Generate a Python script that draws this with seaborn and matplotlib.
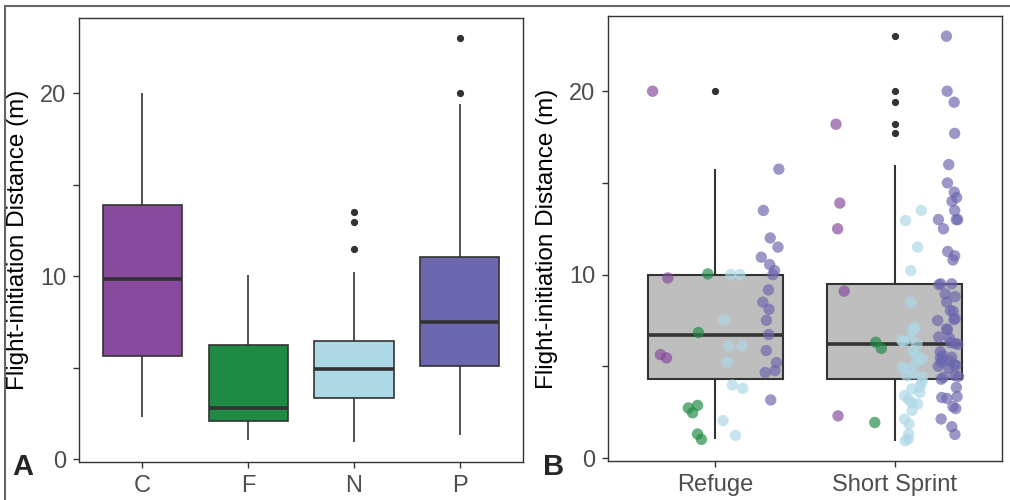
import numpy as np
import pandas as pd
import matplotlib.pyplot as plt
import seaborn as sns
from matplotlib.lines import Line2D

# =============================================================================
# DATA  (flight-initiation distance in m)
# =============================================================================

categories = ["C", "F", "N", "P"]
groups = ["Refuge", "Short Sprint"]

refuge_C = [20.0, 9.82, 5.64, 5.46]
refuge_F = [10.04, 6.84, 2.87, 2.73, 2.47, 1.31, 1.02]
refuge_N = [10.0, 10.0, 7.53, 6.11, 6.11, 5.22, 3.98, 3.8, 2.04, 1.24]
refuge_P = [15.75, 13.5, 12.0, 11.5, 10.95, 10.55, 10.22, 10.0, 9.17,
            8.5, 8.11, 7.51, 6.73, 5.86, 5.2, 4.77, 4.66, 3.17]

sprint_C = [18.2, 13.9, 12.5, 9.1, 2.3]
sprint_F = [6.31, 5.98, 1.94]
sprint_N = [13.5, 12.95, 11.5, 10.22, 8.5, 7.13, 7.0, 6.5, 6.4, 6.35,
            6.22, 5.86, 5.58, 5.4, 5.22, 4.95, 4.86, 4.6, 4.49, 4.4,
            4.13, 3.9, 3.77, 3.58, 3.4, 3.2, 3.03, 2.95, 2.6, 2.13,
            1.86, 1.31, 1.04, 0.94]
sprint_P = [23.0, 20.0, 19.4, 17.7, 16.0, 15.0, 14.5, 14.2, 14.0, 13.5,
            13.0, 13.0, 13.0, 12.5, 11.26, 11.03, 10.8,
            9.5, 9.5, 9.45, 8.95, 8.8, 8.5, 8.04, 8.0, 7.6, 7.55, 7.5,
            7.04, 7.0, 6.6, 6.55, 6.3, 6.25, 6.2,
            5.8, 5.6, 5.5, 5.45, 5.35, 5.3, 5.2, 5.1, 5.05, 5.0, 4.9,
            4.5, 4.45, 4.4, 4.3, 3.85, 3.35, 3.3, 3.25, 2.8, 2.7,
            2.13, 1.71, 1.29]

cat_colors = ["#874A9C", "#1F8A44", "#ADD8E6", "#6C67AE"]

# =============================================================================
# TABLE
# =============================================================================

rows = []
for grp, lists in [("Refuge", [refuge_C, refuge_F, refuge_N, refuge_P]),
                   ("Short Sprint", [sprint_C, sprint_F, sprint_N, sprint_P])]:
    for cat, vals in zip(categories, lists):
        for v in vals:
            rows.append({"group": grp, "cat": cat, "fid": v})
df = pd.DataFrame(rows)

# =============================================================================
# FIGURE
# =============================================================================

sns.set_style("white")
plt.rcParams["font.family"] = ["Liberation Sans", "DejaVu Sans"]

fig = plt.figure(figsize=(10.1, 5.0), dpi=100)
ax_a = fig.add_axes([79 / 1010, 38 / 500, 444 / 1010, 444 / 500])
ax_b = fig.add_axes([608 / 1010, 39 / 500, 394 / 1010, 445 / 500])

edge = "#333333"
flier = {"marker": "o", "markerfacecolor": edge, "markeredgecolor": edge,
         "markersize": 4.2}

# panel A: boxes by category
sns.boxplot(data=df, x="cat", y="fid", hue="cat", order=categories,
            hue_order=categories, palette=cat_colors, saturation=1,
            width=0.75, linecolor=edge, linewidth=1.2, showcaps=False,
            medianprops={"linewidth": 2.6}, flierprops=flier,
            legend=False, ax=ax_a)

# panel B: grey boxes by escape type + jittered points by category
sns.boxplot(data=df, x="group", y="fid", order=groups, color="#BEBEBE",
            saturation=1, width=0.75, linecolor=edge, linewidth=1.5,
            showcaps=False, medianprops={"linewidth": 2.6},
            flierprops=flier, ax=ax_b)

np.random.seed(7)
sns.stripplot(data=df, x="group", y="fid", hue="cat", order=groups,
              hue_order=categories, palette=cat_colors, dodge=True,
              jitter=0.24, size=8.2, alpha=0.68, linewidth=0,
              legend=False, ax=ax_b)

for ax in (ax_a, ax_b):
    ax.set_ylim(-0.16, 24.1)
    ax.set_yticks([0, 5, 10, 15, 20])
    ax.set_yticklabels(["0", "", "10", "", "20"])
    ax.set_xlabel("")
    ax.set_ylabel("Flight-initiation Distance (m)", fontsize=17.5,
                  color="black", labelpad=8)
    ax.tick_params(axis="both", which="major", length=4, width=1,
                   color=edge, labelsize=17, labelcolor="#4D4D4D",
                   left=True, bottom=True, pad=5)
    for sp in ax.spines.values():
        sp.set_visible(True)
        sp.set_color(edge)
        sp.set_linewidth(1.0)

ax_a.set_xlim(-0.6, 3.6)
ax_b.set_xlim(-0.6, 1.6)

# panel letters
fig.text(12 / 1010, 1 - 475 / 500, "A", fontsize=21, fontweight="bold",
         va="baseline")
fig.text(543 / 1010, 1 - 475 / 500, "B", fontsize=21, fontweight="bold",
         va="baseline")

# outer frame (top and left)
fig.add_artist(Line2D([5 / 1010, 1], [1 - 6 / 500, 1 - 6 / 500],
                      color="#666666", linewidth=1.5,
                      transform=fig.transFigure))
fig.add_artist(Line2D([5 / 1010, 5 / 1010], [0, 1 - 6 / 500],
                      color="#666666", linewidth=1.5,
                      transform=fig.transFigure))

fig.savefig("out.png", dpi=100)
